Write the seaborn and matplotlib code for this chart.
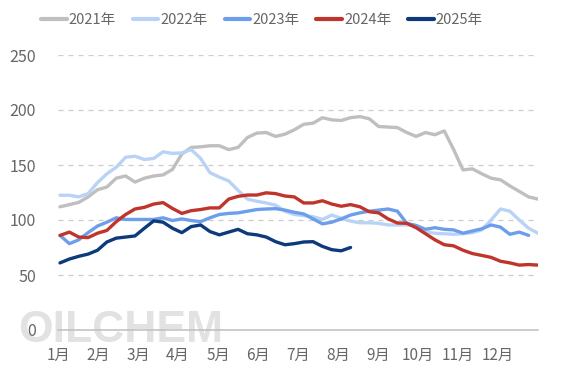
import numpy as np
import pandas as pd
import matplotlib
matplotlib.use('Agg')
import matplotlib.pyplot as plt
import seaborn as sns

# weekly values
y2021 = [112, 114, 116, 121, 127.5, 130, 138, 140, 134.5, 138, 140, 141, 146, 160, 166, 166.5,
         167.5, 167.5, 164, 166, 175, 179, 179.5, 176, 178, 182, 187, 188, 193, 191, 190.5, 193,
         194, 192, 185, 184.5, 184, 179.5, 176, 179.5, 177.5, 181, 164, 145.5, 146.5, 142, 138,
         136.5, 131, 126, 121, 119]
y2022 = [122.5, 122.5, 121, 124, 134, 142, 148, 157, 158, 155, 156, 162, 160.5, 161, 164, 156,
         143, 139, 135.5, 127, 119, 117, 115.5, 113.5, 108, 105, 104, 103, 100.5, 104.5, 101.5, 99,
         97.5, 97.5, 97, 95.5, 95.5, 95.5, 95, 89, 88, 87.5, 87, 87.5, 88.5, 91, 100, 110, 108,
         100, 92.5, 88]
y2023 = [86, 78.5, 82, 88.5, 94.5, 98, 102, 100.5, 100.5, 100.5, 100.5, 102, 99.5, 101, 99.5, 98.5,
         102, 105, 106, 106.5, 108, 109.5, 110, 110.3, 109, 107, 105.5, 101, 96.5, 98, 101, 104.5,
         106.5, 108, 109, 110, 108, 97, 95, 91.5, 93, 91.5, 91, 88, 90, 92, 95.5, 93.5, 87, 89, 86]
y2024 = [86, 89, 84.5, 84, 88, 90.5, 98.5, 105, 110, 111.5, 114.5, 115.8, 110.5, 106, 108.5, 109.5,
         111, 111, 119, 121.5, 122.7, 122.7, 124.7, 124, 121.8, 121, 115.5, 115.5, 117.5, 114.5,
         112.5, 114, 112, 107.5, 106.5, 101, 97.3, 97, 93, 87.5, 82, 77.5, 76.5, 72.5, 69.5, 67.8,
         66, 62.5, 61, 59, 59.5, 59]
y2025 = [61, 64.5, 67, 69, 72.5, 80, 83.5, 84.5, 85.5, 92.5, 99.2, 98, 92.5, 88.5, 94, 95.5,
         89.5, 86.5, 89, 91.5, 87.5, 86.5, 84.5, 80.3, 77.5, 78.5, 80, 80.3, 76, 73, 72, 75]

years = ['2021年', '2022年', '2023年', '2024年', '2025年']
colors = ['#bfbfbf', '#b8d3f5', '#6d9eeb', '#c0352b', '#0d3a7a']
months = ['1月', '2月', '3月', '4月', '5月', '6月', '7月', '8月', '9月', '10月', '11月', '12月']

# week positions on a month axis (0..12)
xpos = np.linspace(0.05, 12.0, 52)

rows = []
for year, vals in zip(years, [y2021, y2022, y2023, y2024, y2025]):
    for i, v in enumerate(vals):
        rows.append({'x': xpos[i], 'value': v, 'year': year})
df = pd.DataFrame(rows)

sns.set_style('white')
plt.rcParams['font.family'] = ['Noto Sans CJK SC', 'DejaVu Sans']

fig = plt.figure(figsize=(5.67, 3.78), dpi=100)
ax = fig.add_axes([58 / 567, 48 / 378, 480 / 567, 275 / 378])

sns.lineplot(data=df, x='x', y='value', hue='year', hue_order=years,
             palette=colors, linewidth=2.4, ax=ax, legend=False, zorder=3)

ax.set_xlim(0, 12)
ax.set_ylim(0, 250)
ax.set_yticks(range(0, 251, 50))
ax.set_xticks(range(13))
ax.set_xticklabels(months + [''])
ax.set_xlabel('')
ax.set_ylabel('')

ax.grid(axis='y', color='#cccccc', linestyle=(0, (4, 4)), linewidth=0.9, zorder=0)
ax.grid(axis='x', visible=False)
for s in ['top', 'right', 'left']:
    ax.spines[s].set_visible(False)
ax.spines['bottom'].set_color('#bfbfbf')
ax.spines['bottom'].set_linewidth(1.1)
ax.tick_params(axis='x', direction='in', length=4, width=0.9, color='#bfbfbf',
               labelsize=11, labelcolor='#666666', pad=12)
ax.tick_params(axis='y', length=0, labelsize=11.5, labelcolor='#666666', pad=16)

# watermark
ax.text(-40 / 480, -1 / 275, 'OILCHEM', transform=ax.transAxes, fontsize=32,
        fontweight='bold', family=['Liberation Sans', 'DejaVu Sans'],
        color='#e2e2e2', ha='left', va='center', zorder=0.5, clip_on=False)

handles = [plt.Line2D([], [], color=c, linewidth=3) for c in colors]
fig.legend(handles, years, loc='center', bbox_to_anchor=(262 / 567, 1 - 20 / 378),
           ncol=5, frameon=False, fontsize=10.5, labelcolor='#666666',
           handlelength=1.75, handletextpad=0.15, columnspacing=1.15)

fig.savefig('out.png', dpi=100)
